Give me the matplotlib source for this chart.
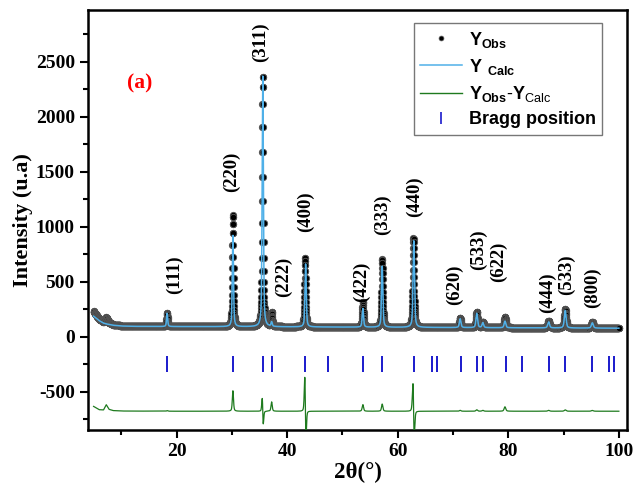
import numpy as np
import matplotlib
matplotlib.use("Agg")
import matplotlib.pyplot as plt
from matplotlib.lines import Line2D
from matplotlib.ticker import MultipleLocator

plt.rcParams['mathtext.fontset'] = 'custom'
plt.rcParams['mathtext.rm'] = 'Liberation Sans'
plt.rcParams['mathtext.bf'] = 'Liberation Sans:bold'
plt.rcParams['axes.unicode_minus'] = False

# ---------------- data ----------------
# background (2theta, intensity)
bg_x = [5, 5.5, 6, 6.8, 7.3, 7.8, 8.5, 10, 12, 15, 20, 30, 40, 50, 60, 70, 80, 90, 100]
calc_bg = [185, 165, 145, 122, 115, 110, 103, 96, 93, 92, 91, 90, 88, 86, 84, 82, 80, 78, 76]
obs_bg = [230, 195, 160, 135, 175, 128, 110, 99, 95, 94, 92, 91, 89, 87, 85, 83, 81, 79, 77]

# reflections: calc position, calc height above background, obs position, obs height, FWHM
peak_pos = [18.3, 30.2, 35.6, 37.2, 43.35, 53.7, 57.2, 62.91, 71.3, 74.3, 75.4, 79.4, 87.3, 90.3, 95.2]
calc_h = [120, 830, 2280, 40, 575, 170, 555, 790, 80, 130, 45, 60, 55, 160, 48]
obs_pos = [18.3, 30.2, 35.59, 37.2, 43.25, 53.7, 57.2, 62.84, 71.3, 74.3, 75.4, 79.4, 87.3, 90.3, 95.2]
obs_h = [125, 1016, 2280, 125, 625, 230, 620, 815, 88, 143, 53, 100, 63, 172, 55]
fwhm = [0.24, 0.25, 0.26, 0.26, 0.27, 0.29, 0.29, 0.31, 0.33, 0.34, 0.34, 0.35, 0.38, 0.38, 0.4]

bragg_pos = [18.3, 30.2, 35.6, 37.2, 43.3, 47.4, 53.7, 57.2, 62.9, 66.2, 67.2, 71.4,
             74.4, 75.5, 79.5, 82.4, 87.3, 90.3, 95.2, 98.2, 99.2]
bragg_level = -250
diff_offset = -680

hkl_labels = ['(111)', '(220)', '(311)', '(222)', '(400)', '(422)', '(333)', '(440)',
              '(620)', '(533)', '(622)', '(444)', '(533)', '(800)']
hkl_x = [19.7, 29.9, 35.1, 39.3, 43.4, 53.5, 57.3, 63.1, 70.2, 74.7, 78.3, 87.0, 90.6, 95.3]
hkl_y = [561, 1497, 2679, 543, 1134, 497, 1106, 1270, 470, 788, 679, 397, 561, 443]

# ---------------- build profiles ----------------
tt = np.arange(5.0, 100.0 + 1e-9, 0.02)


def profile(centers, heights, widths, bgx, bgy):
    y = np.interp(tt, bgx, bgy)
    for c, h, w in zip(centers, heights, widths):
        g = w / 2.0
        lor = 1.0 / (1.0 + ((tt - c) / g) ** 2)
        gau = np.exp(-np.log(2) * ((tt - c) / g) ** 2)
        y = y + h * (0.5 * lor + 0.5 * gau)
    return y


y_calc = profile(peak_pos, calc_h, fwhm, bg_x, calc_bg)
y_obs = profile(obs_pos, obs_h, fwhm, bg_x, obs_bg)
y_diff = y_obs - y_calc + diff_offset

# ---------------- plot ----------------
fig = plt.figure(figsize=(6.38, 4.90), dpi=100)
ax = fig.add_axes([0.138, 0.1224, 0.845, 0.8572])

ax.plot(tt, y_obs, linestyle='none', marker='o', ms=4.6, mfc='black', mec='#5a5a5a', mew=0.6, zorder=2)
ax.plot(tt, y_calc, color='#4fb0e8', lw=1.1, zorder=3)
ax.plot(tt, y_diff, color='#1e7a1e', lw=0.9, zorder=3)
ax.plot(bragg_pos, [bragg_level] * len(bragg_pos), linestyle='none', marker='|',
        ms=11, mew=1.4, color='#1a1acc', zorder=3)

for lab, x, y in zip(hkl_labels, hkl_x, hkl_y):
    ax.text(x, y, lab, rotation=90, ha='center', va='center', fontsize=13.5,
            fontweight='bold', family='Liberation Serif')

ax.text(13.4, 2306, '(a)', color='red', fontsize=15.5, fontweight='bold',
        family='Liberation Serif', ha='center', va='center')

ax.set_xlim(4, 101.5)
ax.set_ylim(-850, 2970)
ax.xaxis.set_major_locator(MultipleLocator(20))
ax.xaxis.set_minor_locator(MultipleLocator(10))
ax.yaxis.set_major_locator(MultipleLocator(500))
ax.yaxis.set_minor_locator(MultipleLocator(250))
ax.tick_params(which='major', direction='out', length=6, width=1.5)
ax.tick_params(which='minor', direction='out', length=3.5, width=1.5)
for lab in ax.get_xticklabels() + ax.get_yticklabels():
    lab.set_family('Liberation Serif')
    lab.set_fontweight('bold')
    lab.set_fontsize(14)
for s in ax.spines.values():
    s.set_linewidth(1.8)

ax.set_xlabel('2θ(°)', fontsize=16.5, fontweight='bold', family='Liberation Serif', labelpad=1)
ax.set_ylabel('Intensity (u.a)', fontsize=16, fontweight='bold', family='Liberation Serif', labelpad=2)

handles = [
    Line2D([], [], linestyle='none', marker='o', ms=3.5, mfc='black', mec='#5a5a5a', mew=0.5),
    Line2D([], [], color='#4fb0e8', lw=1.1),
    Line2D([], [], color='#1e7a1e', lw=1.0),
    Line2D([], [], linestyle='none', marker='|', ms=8, mew=1.2, color='#1a1acc'),
]
labels = [r'$\mathbf{Y_{Obs}}$', r'$\mathbf{Y\ _{Calc}}$',
          r'$\mathbf{Y_{Obs}}$$\mathbf{\text{-}Y}_{\mathrm{Calc}}$', 'Bragg position']
leg = ax.legend(handles, labels, loc='upper left', bbox_to_anchor=(0.588, 0.99),
                frameon=True, fancybox=False, edgecolor='#777777', framealpha=1,
                handlelength=2.3, handletextpad=0.4, borderpad=0.35, labelspacing=0.4,
                prop={'family': 'Liberation Sans', 'weight': 'bold', 'size': 13})
leg.get_frame().set_linewidth(1.0)

fig.savefig('out.png', dpi=100)
